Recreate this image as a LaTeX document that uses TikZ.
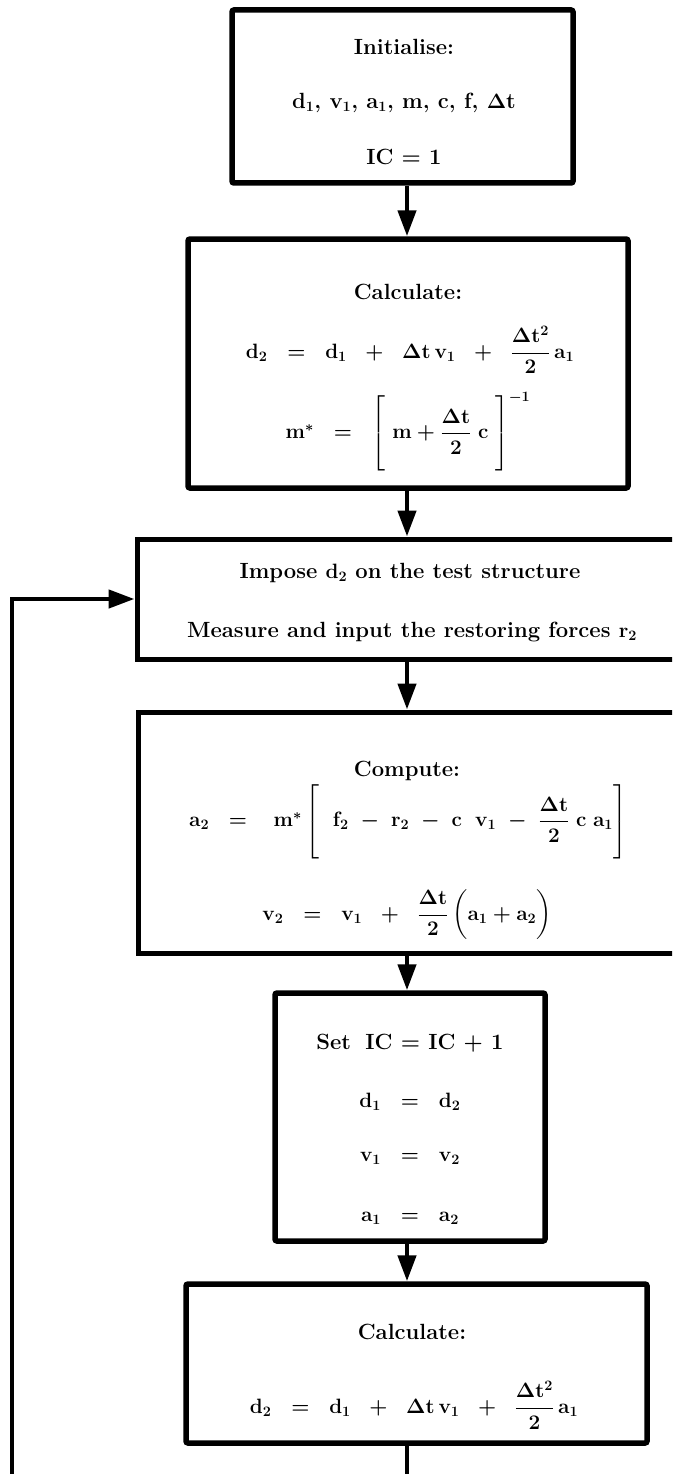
\documentclass[tikz,border=0pt]{standalone}
\usepackage{amsmath}
\usetikzlibrary{arrows.meta}
\newcommand{\tallstrut}{\rule[-33pt]{0pt}{66pt}}
\begin{document}
\begin{tikzpicture}[x=1pt,y=-1pt,
  box/.style={draw, line width=5.5pt, rounded corners=2pt, inner sep=0pt},
  wbox/.style={draw, line width=5pt, inner sep=0pt},
  txt/.style={font=\fontsize{22}{26}\selectfont\bfseries\boldmath, inner sep=0pt},
  arr/.style={line width=4.5pt, -{Triangle[width=18pt,length=26pt]}},
  ln/.style={line width=4.5pt}]
\useasboundingbox (0,0) rectangle (672,1474);
\clip (0,0) rectangle (672,1474);
% columns
\coordinate (ax) at (407,0);
\coordinate (fb) at (12,1480);
\coordinate (ex) at (407,1480);
% boxes
\node[box, minimum width=341pt, minimum height=173pt] (b1) at (402.5,96.5) {};
\node[box, minimum width=440pt, minimum height=249pt] (b2) at (408,363.5) {};
\node[wbox, minimum width=563pt, minimum height=120pt] (b3) at (418.5,599) {};
\node[wbox, minimum width=562pt, minimum height=241pt] (b4) at (419,832.5) {};
\node[box, minimum width=270pt, minimum height=248pt] (b5) at (410,1117) {};
\node[box, minimum width=461pt, minimum height=159pt] (b6) at (416.5,1363.5) {};
% texts box 1
\node[txt] (t11) at (404,47) {Initialise:};
\node[txt] (t12) at (404,103) {d$_1$, v$_1$, a$_1$, m, c, f, $\Delta$t};
\node[txt] (t13) at (404,157) {IC = 1};
% texts box 2
\node[txt] (t21) at (408,292) {Calculate:};
\node[txt] (t22) at (410,350) {$\mathbf{d}_2\;\;=\;\;\mathbf{d}_1\;\;+\;\;\Delta\mathbf{t}\,\mathbf{v}_1\;\;+\;\;\dfrac{\Delta\mathbf{t}^2}{2}\,\mathbf{a}_1$};
\node[txt] (t23) at (408,432) {$\mathbf{m}^{*}\;\;=\;\;\left[\tallstrut\;\mathbf{m}+\dfrac{\Delta\mathbf{t}}{2}\;\mathbf{c}\;\right]^{-1}$};
% texts box 3
\node[txt] (t31) at (410,573) {Impose $\mathbf{d}_2$ on the test structure};
\node[txt] (t32) at (412,632) {Measure and input the restoring forces $\mathbf{r}_2$};
% texts box 4
\node[txt] (t41) at (407,771) {Compute:};
\node[txt] (t42) at (408,822) {$\mathbf{a}_2\;\;=\;\;\;\mathbf{m}^{*}\left[\tallstrut\;\;\mathbf{f}_2\;-\;\mathbf{r}_2\;-\;\mathbf{c}\;\;\mathbf{v}_1\;-\;\dfrac{\Delta\mathbf{t}}{2}\;\mathbf{c}\;\mathbf{a}_1\right]$};
\node[txt] (t43) at (407,915) {$\mathbf{v}_2\;\;=\;\;\mathbf{v}_1\;\;+\;\;\dfrac{\Delta\mathbf{t}}{2}\,\bigg(\mathbf{a}_1+\mathbf{a}_2\bigg)$};
% texts box 5
\node[txt] (t51) at (410,1043) {Set\; IC = IC + 1};
\node[txt] (t52) at (410,1102) {$\mathbf{d}_1\;\;=\;\;\mathbf{d}_2$};
\node[txt] (t53) at (410,1158) {$\mathbf{v}_1\;\;=\;\;\mathbf{v}_2$};
\node[txt] (t54) at (410,1218) {$\mathbf{a}_1\;\;=\;\;\mathbf{a}_2$};
% texts box 6
\node[txt] (t61) at (412,1332) {Calculate:};
\node[txt] (t62) at (414,1405) {$\mathbf{d}_2\;\;=\;\;\mathbf{d}_1\;\;+\;\;\Delta\mathbf{t}\,\mathbf{v}_1\;\;+\;\;\dfrac{\Delta\mathbf{t}^2}{2}\,\mathbf{a}_1$};
% connectors
\draw[arr] (b1.south -| ax) -- (b2.north -| ax);
\draw[arr] (b2.south -| ax) -- (b3.north -| ax);
\draw[arr] (b3.south -| ax) -- (b4.north -| ax);
\draw[arr] (b4.south -| ax) -- (b5.north -| ax);
\draw[arr] (b5.south -| ax) -- (b6.north -| ax);
\draw[ln] (b6.south -| ax) -- (ex);
\draw[arr] (fb) |- (b3.west);
\end{tikzpicture}
\end{document}
